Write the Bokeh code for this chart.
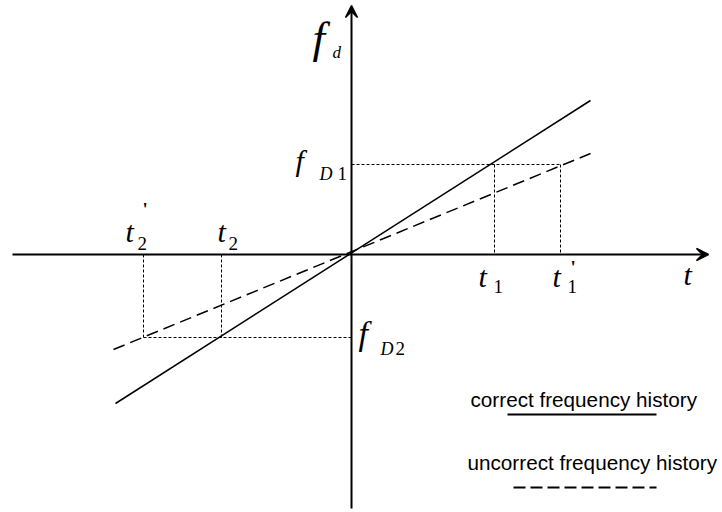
from bokeh.plotting import figure
from bokeh.models import Range1d, Arrow, VeeHead, Label
from bokeh.embed import file_html
from bokeh.resources import INLINE

# Time instants (origin = crossing of the axes)
t2p, t2, t1, t1p = -208, -130, 143, 209
# Doppler frequency levels
fD1, fD2 = 90, -83

# Frequency histories: end points of each line
solid_t = [-236, 239]
solid_f = [-149, 154]
dash_t = [-238, 239]
dash_f = [-95, 101]

legend_labels = ["correct frequency history", "uncorrect frequency history"]

p = figure(width=722, height=512, x_range=Range1d(-351, 371), y_range=Range1d(-258, 254),
           output_backend="svg", toolbar_location=None, min_border=0)
p.axis.visible = False
p.grid.visible = False
p.outline_line_color = None
p.background_fill_color = "white"
p.border_fill_color = "white"

# Axes with arrow heads
p.add_layout(Arrow(end=VeeHead(size=12, line_width=1.5, fill_color="black"),
                   x_start=-339, y_start=0, x_end=357, y_end=0, line_width=2))
p.add_layout(Arrow(end=VeeHead(size=12, line_width=1.5, fill_color="black"),
                   x_start=0, y_start=-254, x_end=0, y_end=249, line_width=2))

# Projection guides
guide = dict(line_color="black", line_width=1, line_dash="3 2")
p.line([0, t1p], [fD1, fD1], **guide)
p.line([t1, t1], [fD1, 0], **guide)
p.line([t1p, t1p], [fD1, 0], **guide)
p.line([t2p, 0], [fD2, fD2], **guide)
p.line([t2, t2], [0, fD2], **guide)
p.line([t2p, t2p], [0, fD2], **guide)

# Frequency histories
p.line(solid_t, solid_f, line_color="black", line_width=1.5)
p.line(dash_t, dash_f, line_color="black", line_width=1.5, line_dash="12 6")

SERIF = "Liberation Serif"


def lab(x, y, text, size, style="italic", font=SERIF):
    # y is the intended baseline; shift to compensate the renderer's baseline placement
    p.add_layout(Label(x=x, y=y, y_offset=round(0.38 * size), text=text, text_font=font,
                       text_font_style=style, text_font_size=f"{size}px", text_color="black",
                       text_baseline="alphabetic", text_align="left"))


# Axis titles
lab(-39, 200, "f", 45)
lab(-19, 196, "d", 17)
lab(332, -31, "t", 30)

# Frequency levels
lab(-56, fD1 - 7, "f", 30)
lab(-32, fD1 - 16, "D", 18)
lab(-14, fD1 - 16, "1", 19, "normal")
lab(7, fD2 - 9, "f", 34)
lab(29, fD2 - 18, "D", 18)
lab(44, fD2 - 18, "2", 19, "normal")

# Time instants
lab(t2p - 18, 12, "t", 30)
lab(t2p - 6, 4, "2", 19, "normal")
lab(t2p - 1, 38, "'", 19, "bold")
lab(t2 - 4, 12, "t", 30)
lab(t2 + 7, 4, "2", 19, "normal")
lab(t1 - 16, -33, "t", 30)
lab(t1 - 1, -39, "1", 19, "normal")
lab(t1p - 8, -33, "t", 30)
lab(t1p + 7, -39, "1", 19, "normal")
lab(t1p + 10, -20, "'", 19, "bold")

# Legend
lab(119, -153, legend_labels[0], 20.7, "normal", "Liberation Sans")
p.line([156, 305], [-160, -160], line_color="black", line_width=2)
lab(116, -216, legend_labels[1], 20.7, "normal", "Liberation Sans")
p.line([162, 305], [-233, -233], line_color="black", line_width=1.8, line_dash="12 5")

open("out.html", "w").write(file_html(p, INLINE))
